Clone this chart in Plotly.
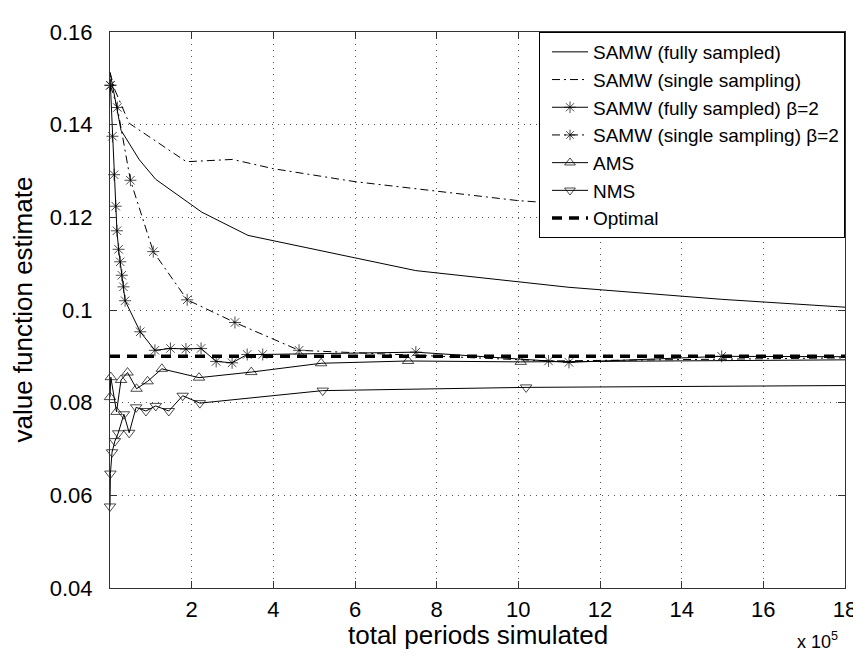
import plotly.graph_objects as go

# ---------------- data (x in units of 1e5 periods) ----------------
x_samw_full = [0.0, 0.27, 0.72, 1.12, 2.25, 3.38, 7.49, 11.24, 14.98, 18.73]
y_samw_full = [0.1513, 0.1388, 0.1324, 0.1282, 0.1211, 0.1161, 0.1085, 0.1049, 0.1023, 0.1002]

x_samw_single = [0.0, 0.11, 0.47, 1.87, 3.0, 4.0, 6.0, 8.0, 10.0, 12.0, 14.0, 16.0, 18.0]
y_samw_single = [0.1513, 0.1477, 0.1403, 0.1320, 0.1325, 0.1305, 0.1277, 0.1257, 0.1236, 0.1224, 0.1221, 0.1217, 0.1215]

x_full_b2 = [0.01, 0.06, 0.10, 0.14, 0.17, 0.21, 0.25, 0.29, 0.33, 0.37, 0.74, 1.10, 1.48,
             1.86, 2.23, 2.60, 2.99, 3.36, 3.74, 7.49, 11.24, 14.98, 18.73]
y_full_b2 = [0.1485, 0.1375, 0.1292, 0.1224, 0.1171, 0.1131, 0.1104, 0.1075, 0.1050, 0.1020, 0.0953, 0.0913, 0.0917,
             0.0916, 0.0917, 0.0889, 0.0886, 0.0904, 0.0904, 0.0909, 0.0887, 0.0900, 0.0899]

x_single_b2 = [0.01, 0.18, 0.50, 1.06, 1.89, 3.06, 4.63, 10.74, 19.5]
y_single_b2 = [0.1485, 0.1437, 0.1280, 0.1126, 0.1022, 0.0973, 0.0913, 0.0890, 0.0898]

x_ams = [0.0, 0.02, 0.16, 0.27, 0.43, 0.65, 0.92, 1.27, 2.18, 3.46, 5.17, 7.30, 10.06, 19.0]
y_ams = [0.0812, 0.0855, 0.0780, 0.0849, 0.0865, 0.0830, 0.0846, 0.0873, 0.0854, 0.0866, 0.0885, 0.0890, 0.0888, 0.0893]

x_nms = [0.0, 0.01, 0.05, 0.12, 0.20, 0.34, 0.47, 0.64, 0.88, 1.12, 1.44, 1.78, 2.20, 5.21, 10.19, 20.0]
y_nms = [0.0576, 0.0647, 0.0693, 0.0717, 0.0734, 0.0775, 0.0735, 0.0790, 0.0782, 0.0793, 0.0782, 0.0815, 0.0799, 0.0826, 0.0833, 0.0838]

x_optimal = [0.0, 18.0]
y_optimal = [0.090, 0.090]

x_ticks = [2, 4, 6, 8, 10, 12, 14, 16, 18]
y_ticks = [0.04, 0.06, 0.08, 0.10, 0.12, 0.14, 0.16]
y_tick_labels = ["0.04", "0.06", "0.08", "0.1", "0.12", "0.14", "0.16"]

X_MAX = 18
Y_MIN, Y_MAX = 0.04, 0.16

FONT = "Liberation Sans, Arial, Helvetica, sans-serif"
DASHDOT = "8px,4px,2px,4px"


def msize(xs, s):
    return [s if x <= X_MAX else 0 for x in xs]


fig = go.Figure()

fig.add_trace(go.Scatter(x=x_samw_full, y=y_samw_full, mode="lines",
                         name="SAMW (fully sampled)",
                         line=dict(color="black", width=1)))
fig.add_trace(go.Scatter(x=x_samw_single, y=y_samw_single, mode="lines",
                         name="SAMW (single sampling)",
                         line=dict(color="black", width=1, dash=DASHDOT)))
fig.add_trace(go.Scatter(x=x_full_b2, y=y_full_b2, mode="lines+markers",
                         name="SAMW (fully sampled) β=2", cliponaxis=False,
                         line=dict(color="black", width=1),
                         marker=dict(symbol="asterisk-open", size=msize(x_full_b2, 10),
                                     color="black", line=dict(color="black", width=1))))
fig.add_trace(go.Scatter(x=x_single_b2, y=y_single_b2, mode="lines+markers",
                         name="SAMW (single sampling) β=2", cliponaxis=False,
                         line=dict(color="black", width=1, dash=DASHDOT),
                         marker=dict(symbol="asterisk-open", size=msize(x_single_b2, 10),
                                     color="black", line=dict(color="black", width=1))))
fig.add_trace(go.Scatter(x=x_ams, y=y_ams, mode="lines+markers",
                         name="AMS", cliponaxis=False,
                         line=dict(color="black", width=1),
                         marker=dict(symbol="triangle-up-open", size=msize(x_ams, 10),
                                     color="black", line=dict(color="black", width=1))))
fig.add_trace(go.Scatter(x=x_nms, y=y_nms, mode="lines+markers",
                         name="NMS", cliponaxis=False,
                         line=dict(color="black", width=1),
                         marker=dict(symbol="triangle-down-open", size=msize(x_nms, 10),
                                     color="black", line=dict(color="black", width=1))))
fig.add_trace(go.Scatter(x=x_optimal, y=y_optimal, mode="lines",
                         name="Optimal",
                         line=dict(color="black", width=3.5, dash="10px,7px")))

axis_common = dict(
    showline=True, linecolor="#333", linewidth=1, mirror="ticks",
    ticks="inside", ticklen=7, tickcolor="#333", tickwidth=1,
    showgrid=True, gridcolor="#555", gridwidth=1, griddash="1px,5px",
    zeroline=False, tickfont=dict(family=FONT, size=22, color="black"),
)

fig.update_xaxes(range=[0, X_MAX], tickmode="array", tickvals=x_ticks,
                 ticktext=[str(t) for t in x_ticks], ticklabelstandoff=2, **axis_common)
fig.update_yaxes(range=[Y_MIN, Y_MAX], tickmode="array", tickvals=y_ticks,
                 ticktext=y_tick_labels, ticklabelstandoff=12, **axis_common)

fig.update_layout(
    width=861, height=655,
    margin=dict(l=102, r=15, t=12, b=75),
    plot_bgcolor="white", paper_bgcolor="white",
    font=dict(family=FONT, color="black", size=22),
    showlegend=True,
    legend=dict(x=1, y=1, xanchor="right", yanchor="top",
                bgcolor="white", bordercolor="black", borderwidth=1,
                font=dict(family=FONT, size=19, color="black"),
                itemwidth=36, indentation=7, tracegroupgap=0),
    annotations=[
        dict(text="total periods simulated", xref="paper", yref="paper",
             x=0.5, y=-0.0845, xanchor="center", yanchor="middle", showarrow=False,
             font=dict(family=FONT, size=26, color="black")),
        dict(text="value function estimate", xref="paper", yref="paper",
             x=-0.119, y=0.5, xanchor="center", yanchor="middle", textangle=-90,
             showarrow=False, font=dict(family=FONT, size=26, color="black")),
        dict(text="x 10<sup>5</sup>", xref="paper", yref="paper",
             x=0.993, y=-0.095, xanchor="right", yanchor="middle", showarrow=False,
             font=dict(family=FONT, size=18, color="black")),
    ],
)

fig.write_html("out.html")
